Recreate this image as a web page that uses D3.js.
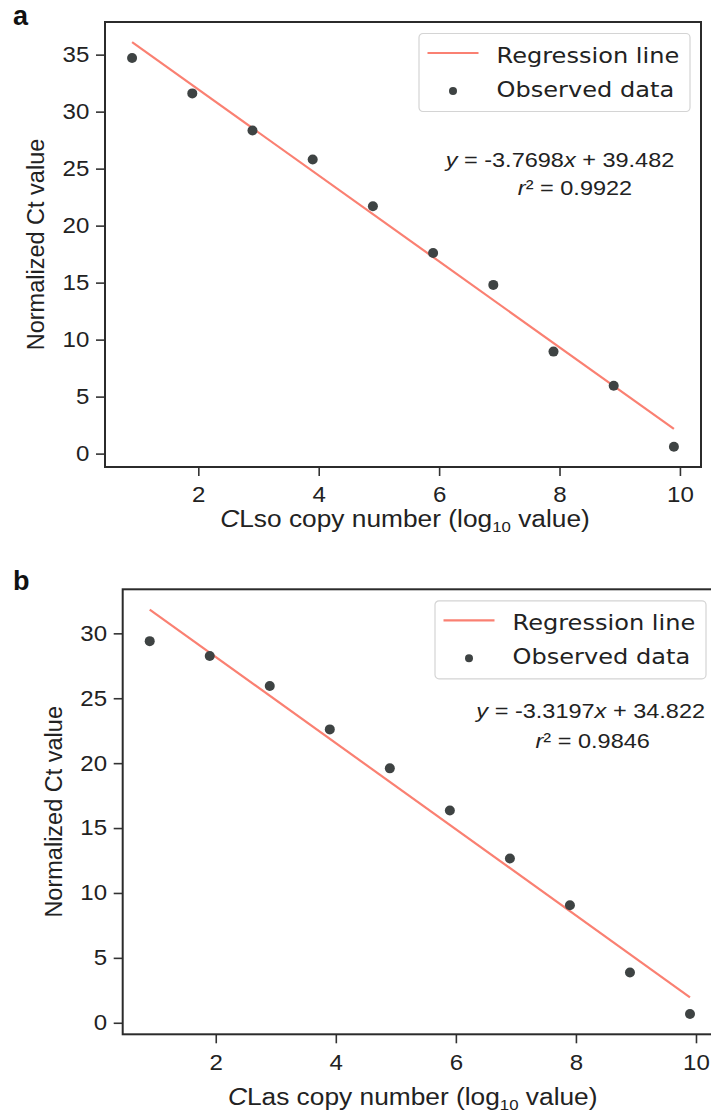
<!doctype html>
<html>
<head>
<meta charset="utf-8">
<title>Ct standard curves</title>
<script src="https://d3js.org/d3.v7.min.js"></script>
<style>
  body { margin: 0; background: #fff; }
  svg { display: block; }
</style>
</head>
<body>
<div id="chart"></div>
<script>
// values
var copyNumber = [0.9, 1.9, 2.9, 3.9, 4.9, 5.9, 6.9, 7.9, 8.9, 9.9];
var ctCLso = [34.7, 31.6, 28.35, 25.8, 21.7, 17.6, 14.8, 8.95, 5.95, 0.6];
var ctCLas = [29.4, 28.25, 25.95, 22.6, 19.6, 16.35, 12.65, 9.05, 3.87, 0.67];
var slopes = [-3.7698, -3.3197];
var intercepts = [39.482, 34.822];
var rSquared = ["0.9922", "0.9846"];
var xTicks = [2, 4, 6, 8, 10];
var yTicksCLso = [0, 5, 10, 15, 20, 25, 30, 35];
var yTicksCLas = [0, 5, 10, 15, 20, 25, 30];
var legendLabels = ["Regression line", "Observed data"];
var panelLetters = ["a", "b"];
var targets = ["CLso", "CLas"];

var W = 711, H = 1114;
var SX = 1.12; // the figure is slightly stretched horizontally
var sans = "'Liberation Sans', Arial, Helvetica, sans-serif";
var dejavu = "'DejaVu Sans', sans-serif";
var lineColor = "#fa8072", dotColor = "#3e4343", inkColor = "#222";

var svg = d3.select("#chart").append("svg")
    .attr("width", W).attr("height", H);

// layout of each panel (pixels)
var panels = [
  { left: 105, top: 22, width: 596, height: 445, y: ctCLso, yTicks: yTicksCLso,
    eqX: 455, eqY: 145, r2X: 470, r2Y: 173, xLabX: 300, xLabY: 60, letterY: 25 },
  { left: 122.7, top: 589.3, width: 594.3, height: 445, y: ctCLas, yTicks: yTicksCLas,
    eqX: 468, eqY: 129, r2X: 470, r2Y: 159, xLabX: 290, xLabY: 71, letterY: 590 }
];

function stretched(sel, x, y) {
  return sel.attr("transform", "translate(" + x + "," + y + ") scale(" + SX + ",1)");
}

panels.forEach(function(p, i) {
  var slope = slopes[i], icpt = intercepts[i];
  var xMin = d3.min(copyNumber), xMax = d3.max(copyNumber);
  var xPad = (xMax - xMin) * 0.05;
  var fitEnds = [xMin, xMax].map(function(x) { return slope * x + icpt; });
  var yLo = d3.min(p.y.concat(fitEnds)), yHi = d3.max(p.y.concat(fitEnds));
  var yPad = (yHi - yLo) * 0.05;

  var x = d3.scaleLinear().domain([xMin - xPad, xMax + xPad]).range([0, p.width]);
  var y = d3.scaleLinear().domain([yLo - yPad, yHi + yPad]).range([p.height, 0]);

  var g = svg.append("g").attr("transform", "translate(" + p.left + "," + p.top + ")");

  // regression line
  g.append("line")
    .attr("x1", x(xMin)).attr("y1", y(fitEnds[0]))
    .attr("x2", x(xMax)).attr("y2", y(fitEnds[1]))
    .attr("stroke", lineColor).attr("stroke-width", 2.2);

  // observed points
  g.selectAll(".dot")
    .data(copyNumber.map(function(c, k) { return [c, p.y[k]]; }))
    .enter().append("circle")
    .attr("class", "dot")
    .attr("cx", function(d) { return x(d[0]); })
    .attr("cy", function(d) { return y(d[1]); })
    .attr("r", 5)
    .attr("fill", dotColor);

  // axes
  var xAxis = g.append("g").attr("transform", "translate(0," + p.height + ")")
    .call(d3.axisBottom(x).tickValues(xTicks).tickSize(9).tickPadding(11));
  var yAxis = g.append("g")
    .call(d3.axisLeft(y).tickValues(p.yTicks).tickSize(9).tickPadding(5));
  [xAxis, yAxis].forEach(function(a) {
    a.select(".domain").remove();
    a.selectAll(".tick line").attr("stroke", "#333").attr("stroke-width", 1.6);
    a.selectAll(".tick text")
      .attr("fill", inkColor)
      .style("font-family", sans)
      .style("font-size", "21.5px");
  });
  yAxis.selectAll(".tick text").attr("transform", "scale(" + SX + ",1)");
  xAxis.selectAll(".tick text").attr("transform", "scale(" + SX + ",1)");

  // frame
  g.append("rect")
    .attr("width", p.width).attr("height", p.height)
    .attr("fill", "none").attr("stroke", "#2b2b2b").attr("stroke-width", 2);

  // legend
  var lgW = 271, lgH = 78;
  var lg = g.append("g").attr("transform", "translate(" + (p.width - 11 - lgW) + ",11.5)");
  lg.append("rect")
    .attr("width", lgW).attr("height", lgH).attr("rx", 4)
    .attr("fill", "#fff").attr("fill-opacity", 0.8)
    .attr("stroke", "#d4d4d4").attr("stroke-width", 1.2);
  lg.append("line")
    .attr("x1", 8.5).attr("x2", 59.5).attr("y1", 19.5).attr("y2", 19.5)
    .attr("stroke", lineColor).attr("stroke-width", 2.2);
  lg.append("circle").attr("cx", 34).attr("cy", 57.5).attr("r", 4).attr("fill", dotColor);
  legendLabels.forEach(function(t, k) {
    stretched(lg.append("text"), 77.5, 29 + k * 34.4)
      .text(t)
      .attr("fill", inkColor)
      .style("font-family", dejavu)
      .style("font-size", "21.5px");
  });

  // regression equation
  var eq = stretched(g.append("text"), p.eqX, p.eqY)
    .attr("text-anchor", "middle").attr("fill", inkColor)
    .style("font-family", sans).style("font-size", "21px");
  eq.append("tspan").style("font-style", "italic").text("y");
  eq.append("tspan").text(" = " + slope.toFixed(4) + "");
  eq.append("tspan").style("font-style", "italic").text("x");
  eq.append("tspan").text(" + " + icpt.toFixed(3));

  var r2 = stretched(g.append("text"), p.r2X, p.r2Y)
    .attr("text-anchor", "middle").attr("fill", inkColor)
    .style("font-family", sans).style("font-size", "21px");
  r2.append("tspan").style("font-style", "italic").text("r");
  r2.append("tspan").text("\u00b2 = " + rSquared[i]);

  // axis titles
  var xl = stretched(g.append("text"), p.xLabX, p.height + p.xLabY)
    .attr("text-anchor", "middle").attr("fill", inkColor)
    .style("font-family", sans).style("font-size", "23.5px");
  xl.append("tspan").style("font-style", "italic").text("C");
  xl.append("tspan").text(targets[i].slice(1) + " copy number (log");
  xl.append("tspan").attr("dy", 5).style("font-size", "15px").text("10");
  xl.append("tspan").attr("dy", -5).text(" value)");

  g.append("text")
    .attr("transform", "translate(-61," + (p.height / 2) + ") rotate(-90)")
    .attr("text-anchor", "middle").attr("fill", inkColor)
    .style("font-family", sans).style("font-size", "23.5px")
    .text("Normalized Ct value");

  // panel letter
  svg.append("text")
    .attr("x", 13).attr("y", p.letterY)
    .attr("fill", "#111")
    .style("font-family", sans).style("font-weight", "bold").style("font-size", "27px")
    .text(panelLetters[i]);
});
</script>
</body>
</html>
